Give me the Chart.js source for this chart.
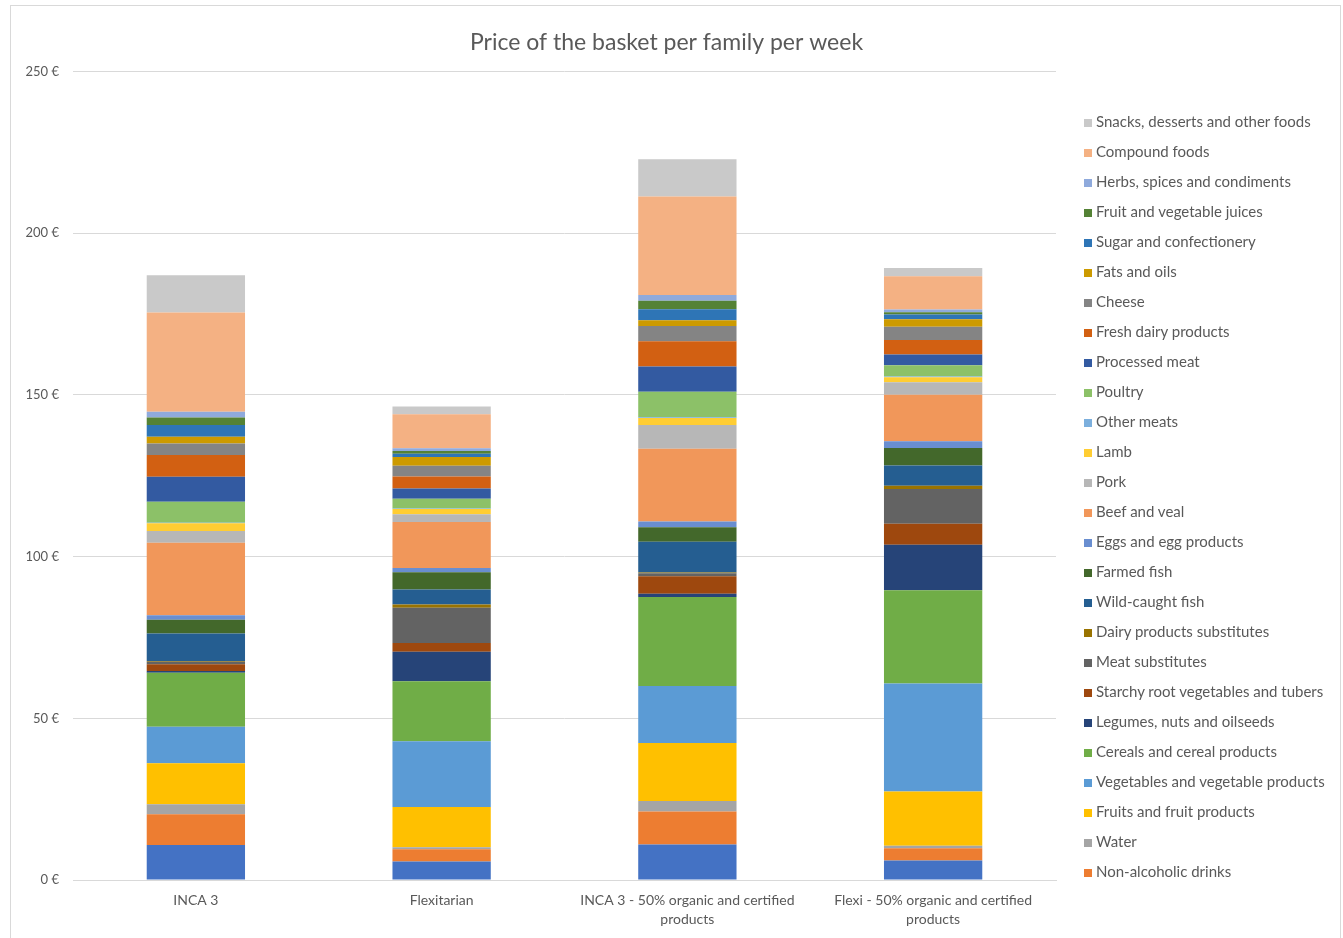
<!DOCTYPE html>
<html>
<head>
<meta charset="utf-8">
<script src="https://cdn.jsdelivr.net/npm/chart.js@4"></script>
<style>
  body { margin: 0; background: #fff; font-family: Lato, "Liberation Sans", sans-serif; }
  #frame { position: absolute; left: 10px; top: 5px; width: 1329px; height: 940px; border: 1px solid #d9d9d9; }
  #wrap { position: absolute; left: 0; top: 0; width: 1329px; height: 932px; }
  #legend { position: absolute; left: 1073px; top: 100px; color: #595959; font-size: 15px; }
  .item { height: 30px; line-height: 30px; white-space: nowrap; }
  .box { display: inline-block; width: 8px; height: 8px; margin-right: 4px; vertical-align: 0px; }
</style>
</head>
<body>
<div id="frame">
  <div id="wrap"><canvas id="chart"></canvas></div>
  <div id="legend"></div>
</div>
<script>
// Categories (x axis)
const categories = [
    ['INCA 3'],
    ['Flexitarian'],
    ['INCA 3 - 50% organic and certified', 'products'],
    ['Flexi - 50% organic and certified', 'products']
];

// Series, from the bottom of the stack to the top
const seriesNames = [
    'Alcoholic drinks',
    'Non-alcoholic drinks',
    'Water',
    'Fruits and fruit products',
    'Vegetables and vegetable products',
    'Cereals and cereal products',
    'Legumes, nuts and oilseeds',
    'Starchy root vegetables and tubers',
    'Meat substitutes',
    'Dairy products substitutes',
    'Wild-caught fish',
    'Farmed fish',
    'Eggs and egg products',
    'Beef and veal',
    'Pork',
    'Lamb',
    'Other meats',
    'Poultry',
    'Processed meat',
    'Fresh dairy products',
    'Cheese',
    'Fats and oils',
    'Sugar and confectionery',
    'Fruit and vegetable juices',
    'Herbs, spices and condiments',
    'Compound foods',
    'Snacks, desserts and other foods'
];

const seriesColors = [
    '#4472C4', '#ED7D31', '#A5A5A5', '#FFC000', '#5B9BD5', '#70AD47',
    '#264478', '#9E480E', '#636363', '#997300', '#255E91', '#43682B',
    '#698ED0', '#F1975A', '#B7B7B7', '#FFCD33', '#7CAFDD', '#8CC168',
    '#335AA1', '#D26012', '#848484', '#CC9A00', '#2E75B6', '#548235',
    '#8FAADC', '#F4B183', '#C9C9C9'
];

// € per family per week, one value per series (same order as seriesNames)
const inca3 = [10.8, 9.5, 3.1, 12.7, 11.3, 16.7, 0.5, 2.1, 0.8, 0.2, 8.5, 4.3, 1.4, 22.4,
    3.6, 2.4, 0.2, 6.5, 7.7, 6.7, 3.6, 2.1, 3.6, 2.3, 1.8, 30.7, 11.5];
const flexitarian = [5.7, 3.8, 0.6, 12.5, 20.3, 18.6, 9.1, 2.7, 10.9, 1.0, 4.6, 5.4, 1.3, 14.2,
    2.4, 1.6, 0.2, 3.0, 3.2, 3.7, 3.3, 2.7, 1.0, 0.9, 0.8, 10.5, 2.4];
const inca3Organic = [11.0, 10.2, 3.2, 18.0, 17.6, 27.5, 1.0, 5.4, 1.0, 0.2, 9.5, 4.5, 1.8, 22.5,
    7.3, 2.2, 0.2, 7.9, 7.8, 7.8, 4.7, 1.8, 3.4, 2.6, 1.8, 30.5, 11.5];
const flexiOrganic = [6.0, 3.8, 0.8, 16.8, 33.4, 28.8, 14.1, 6.5, 10.7, 1.0, 6.3, 5.4, 2.1, 14.4,
    3.8, 1.6, 0.2, 3.5, 3.3, 4.5, 4.1, 2.3, 1.5, 0.7, 0.8, 10.3, 2.6];

// Legend in the picture stops at "Non-alcoholic drinks"
const legendHidden = ['Alcoholic drinks'];

const datasets = seriesNames.map((name, i) => ({
    label: name,
    data: [inca3[i], flexitarian[i], inca3Organic[i], flexiOrganic[i]],
    backgroundColor: seriesColors[i],
    borderWidth: 0,
    barPercentage: 0.4,
    categoryPercentage: 1
}));

const textColor = '#595959';
const fontFamily = 'Lato, "Liberation Sans", sans-serif';

const ctx = document.getElementById('chart').getContext('2d');
const chart = new Chart(ctx, {
    type: 'bar',
    data: { labels: categories, datasets: datasets },
    options: {
        responsive: true,
        maintainAspectRatio: false,
        animation: false,
        layout: { padding: { left: 0, right: 18, top: 0, bottom: 0 } },
        plugins: {
            legend: { display: false },
            tooltip: { enabled: false },
            title: {
                display: true,
                text: 'Price of the basket per family per week',
                color: textColor,
                font: { family: fontFamily, size: 23, weight: 'normal' },
                padding: { top: 23, bottom: 15 }
            }
        },
        scales: {
            x: {
                stacked: true,
                grid: { display: false },
                border: { color: '#d9d9d9' },
                ticks: {
                    color: textColor,
                    font: { family: fontFamily, size: 14, lineHeight: 1.36 },
                    padding: 3,
                    maxRotation: 0,
                    autoSkip: false
                },
                afterFit: function (scale) { scale.height = 58; }
            },
            y: {
                stacked: true,
                min: 0,
                max: 250,
                grid: { color: '#d9d9d9', drawTicks: false },
                border: { display: false },
                ticks: {
                    stepSize: 50,
                    color: textColor,
                    font: { family: fontFamily, size: 13 },
                    padding: 14,
                    callback: v => v + ' €'
                },
                afterFit: function (scale) { scale.width = 62; }
            },
            // empty right-hand space reserved for the legend
            legendSpace: {
                position: 'right',
                display: true,
                grid: { display: false, drawTicks: false },
                border: { display: false },
                ticks: { display: false },
                afterFit: function (scale) { scale.width = 266; }
            }
        }
    }
});

// Legend built from the chart's own datasets, top of stack first
const legendEl = document.getElementById('legend');
chart.data.datasets.slice().reverse().forEach(ds => {
    if (legendHidden.includes(ds.label)) return;
    const row = document.createElement('div');
    row.className = 'item';
    const box = document.createElement('span');
    box.className = 'box';
    box.style.background = ds.backgroundColor;
    row.appendChild(box);
    row.appendChild(document.createTextNode(ds.label));
    legendEl.appendChild(row);
});
</script>
</body>
</html>
